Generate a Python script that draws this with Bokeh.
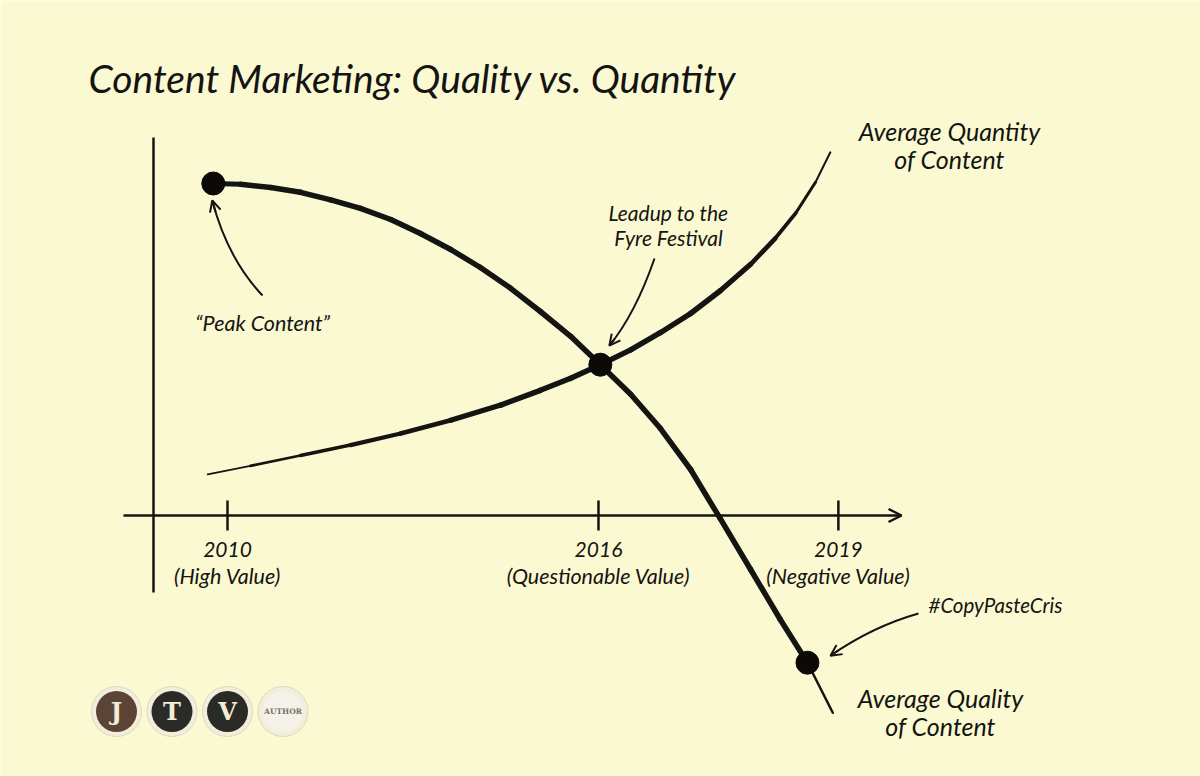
from bokeh.plotting import figure
from bokeh.models import Range1d, Arrow, OpenHead
from bokeh.core.properties import value
from bokeh.embed import file_html
from bokeh.resources import INLINE

# ---------------- data ----------------
title = "Content Marketing: Quality vs. Quantity"

tick_years = ["2010", "2016", "2019"]
tick_notes = ["(High Value)", "(Questionable Value)", "(Negative Value)"]
tick_pos = [0.0, 6.0, 9.88]          # where each year sits on the sketch's time axis

# Average quality of content (falls away after the peak)
quality_x = [-0.23, 0.21, 0.70, 1.18, 1.67, 2.15, 2.64, 3.12, 3.61, 4.09, 4.58,
             5.06, 5.55, 6.03, 6.52, 7.00, 7.49, 7.97, 8.46, 8.94, 9.38, 9.79]
quality_y = [8.30, 8.28, 8.20, 8.08, 7.89, 7.68, 7.40, 7.05, 6.65, 6.20, 5.68,
             5.10, 4.48, 3.77, 3.03, 2.18, 1.15, -0.08, -1.35, -2.60, -3.68, -4.93]

# Average quantity of content (keeps climbing)
quantity_x = [-0.32, 0.37, 1.18, 1.99, 2.80, 3.61, 4.42, 5.06, 5.55, 6.03,
              6.52, 7.00, 7.49, 7.97, 8.46, 8.86, 9.19, 9.51, 9.75]
quantity_y = [1.03, 1.24, 1.50, 1.76, 2.05, 2.38, 2.76, 3.13, 3.43, 3.77,
              4.14, 4.57, 5.05, 5.62, 6.28, 6.93, 7.56, 8.33, 9.08]

# highlighted moments on the quality curve
highlight_idx = [0, 13, 20]          # "Peak Content", Fyre Festival crossing, #CopyPasteCris

logo_letters = ["J", "T", "V", "AUTHOR"]

# ---------------- layout / style ----------------
W, H = 1200, 776
BG = "#FBF9D1"
INK = "#141412"
FONT = "Lato"

X0_PX, PXX = 227.0, 61.83     # pixel of x=0 and pixels per x unit
Y0_PX, PXY = 515.0, 40.0      # pixel (from top) of y=0 and pixels per y unit


def X(px):
    return (px - X0_PX) / PXX


def Y(py):
    return (Y0_PX - py) / PXY


p = figure(width=W, height=H,
           x_range=Range1d(X(0), X(W)), y_range=Range1d(Y(H), Y(0)),
           output_backend="svg", toolbar_location=None,
           x_axis_location=None, y_axis_location=None,
           min_border=0, background_fill_color=BG, border_fill_color=BG,
           outline_line_color=None)
p.grid.visible = False

# ---- hand-drawn axes ----
p.segment(x0=[X(153)], y0=[Y(137)], x1=[X(153)], y1=[Y(592)],
          line_color=INK, line_width=2.5)
p.add_layout(Arrow(end=OpenHead(size=13, line_width=2.5, line_color=INK),
                   x_start=X(123), y_start=0, x_end=X(901), y_end=0,
                   line_color=INK, line_width=2.5))
tick_half = 15 / PXY
p.segment(x0=tick_pos, y0=[-tick_half] * 3, x1=tick_pos, y1=[tick_half] * 3,
          line_color=INK, line_width=2.5)

label_kw = dict(text_font=value(FONT), text_font_style="italic",
                text_color=INK, text_align="center", text_baseline="middle")
p.text(x=tick_pos, y=[Y(549)] * 3, text=tick_years, text_font_size="21px", **label_kw)
p.text(x=tick_pos, y=[Y(575)] * 3, text=tick_notes, text_font_size="21.5px", **label_kw)

# ---- curves (tapered brush strokes) ----
q_w = [5.5] * (len(quality_x) - 1)
q_w[0] = 5
q_w[-1] = 2.5
p.segment(x0=quality_x[:-1], y0=quality_y[:-1], x1=quality_x[1:], y1=quality_y[1:],
          line_width=q_w, line_color=INK, line_cap="round")

n_w = [1.8, 2.8, 3.6, 4.2, 4.8, 5.2, 5.5, 5.5, 5.5, 5.5, 5.5, 5.5, 5.5,
       5.2, 4.6, 3.8, 3.0, 2.0]
p.segment(x0=quantity_x[:-1], y0=quantity_y[:-1], x1=quantity_x[1:], y1=quantity_y[1:],
          line_width=n_w, line_color=INK, line_cap="round")

hx = [quality_x[i] for i in highlight_idx]
hy = [quality_y[i] for i in highlight_idx]
p.scatter(hx, hy, size=23, color="#0b0a08")

# ---- annotation arrows (anchored to the highlighted points) ----
def curved_arrow(tail_px, ctrl_px, head_off_px, anchor):
    ax, ay = anchor
    hx_, hy_ = ax + head_off_px[0] / PXX, ay - head_off_px[1] / PXY
    tx, ty = X(tail_px[0]), Y(tail_px[1])
    cx, cy = X(ctrl_px[0]), Y(ctrl_px[1])
    p.quadratic(x0=[tx], y0=[ty], x1=[hx_], y1=[hy_], cx=[cx], cy=[cy],
                line_color=INK, line_width=2)
    t = 0.9
    sx = (1 - t) ** 2 * tx + 2 * (1 - t) * t * cx + t ** 2 * hx_
    sy = (1 - t) ** 2 * ty + 2 * (1 - t) * t * cy + t ** 2 * hy_
    p.add_layout(Arrow(end=OpenHead(size=11, line_width=2, line_color=INK),
                       x_start=sx, y_start=sy, x_end=hx_, y_end=hy_,
                       line_color=INK, line_width=2))

curved_arrow((262, 295), (227, 258), (-1, 17), (hx[0], hy[0]))
curved_arrow((654, 258), (635, 313), (9, -19), (hx[1], hy[1]))
curved_arrow((918, 613), (872, 626), (23, -7), (hx[2], hy[2]))

# ---- texts ----
p.text(x=[X(88)], y=[Y(77)], text=[title], text_font=value(FONT),
       text_font_style="italic", text_font_size="39px", text_color=INK,
       text_align="left", text_baseline="alphabetic")

p.text(x=[X(262)], y=[Y(322)], text=["\u201cPeak Content\u201d"],
       text_font_size="21.5px", **label_kw)
p.text(x=[X(668)] * 2, y=[Y(212), Y(237)], text=["Leadup to the", "Fyre Festival"],
       text_font_size="21px", **label_kw)
p.text(x=[X(928)], y=[Y(604)], text=["#CopyPasteCris"], text_font=value(FONT),
       text_font_style="italic", text_font_size="20.5px", text_color=INK,
       text_align="left", text_baseline="middle")
p.text(x=[X(949)] * 2, y=[Y(130), Y(158)], text=["Average Quantity", "of Content"],
       text_font_size="25px", **label_kw)
p.text(x=[X(940)] * 2, y=[Y(697), Y(725)], text=["Average Quality", "of Content"],
       text_font_size="25px", **label_kw)

# ---- logo badges ----
lx = [X(116 + 55.5 * i) for i in range(4)]
ly = [Y(711)] * 4
p.scatter(lx, ly, size=50, fill_color="#F1EEDC", line_color="#DDD8C2", line_width=1)
p.scatter(lx, ly, size=41, fill_color=["#5B4435", "#2A2A26", "#2A2A26", "#F3F1E8"],
          line_color=None)
p.text(x=lx[:3], y=ly[:3], text=logo_letters[:3], text_font=value("DejaVu Serif"),
       text_font_style="bold", text_font_size="24px", text_color="#F4ECD4",
       text_align="center", text_baseline="middle")
p.text(x=[lx[3]], y=[ly[3]], text=[logo_letters[3]], text_font=value("DejaVu Serif"),
       text_font_style="bold", text_font_size="7.5px", text_color="#6E6E68",
       text_align="center", text_baseline="middle")

open("out.html", "w").write(file_html(p, INLINE))
